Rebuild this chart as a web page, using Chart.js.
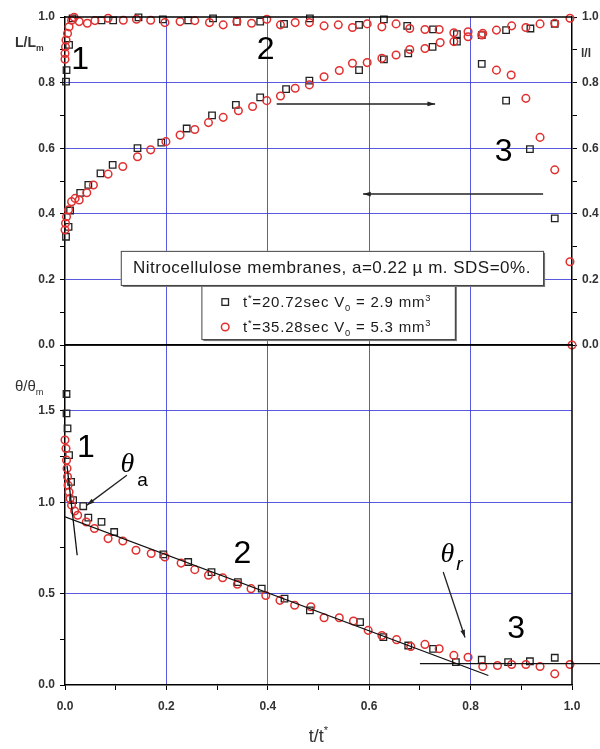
<!DOCTYPE html>
<html>
<head>
<meta charset="utf-8">
<script src="https://cdn.jsdelivr.net/npm/chart.js@4.4.1/dist/chart.umd.min.js"></script>
<style>
  html, body { margin: 0; padding: 0; background: #fff; overflow: hidden; }
  #wrap { position: relative; width: 600px; height: 749px; overflow: hidden; }
  canvas { position: absolute; left: 0; }
  #topChart { top: 0; }
  #botChart { top: 330px; }
</style>
</head>
<body>
<div id="wrap">
  <canvas id="topChart" width="640" height="360"></canvas>
  <canvas id="botChart" width="640" height="419"></canvas>
</div>
<script>
// tick values
const xTicks = [0, 0.1, 0.2, 0.3, 0.4, 0.5, 0.6, 0.7, 0.8, 0.9, 1.0];
const topYTicks = [0, 0.1, 0.2, 0.3, 0.4, 0.5, 0.6, 0.7, 0.8, 0.9, 1.0];
const botYTicks = [0, 0.25, 0.5, 0.75, 1.0, 1.25, 1.5, 1.75];

// top panel, squares (t*=20.72sec) - L/Lm branch
const topSqUpper = [[0.002,0.803],[0.003,0.838],[0.008,0.915],[0.015,0.996],[0.072,0.99],[0.095,0.99],
  [0.145,0.999],[0.193,0.993],[0.243,0.99],[0.292,0.996],[0.339,0.986],[0.385,0.986],[0.432,0.979],
  [0.483,0.996],[0.58,0.976],[0.629,0.993],[0.675,0.973],[0.726,0.962],[0.773,0.948],
  [0.822,0.857],[0.87,0.745],[0.917,0.597],[0.966,0.386]];
// top panel, squares - l/l branch
const topSqRising = [[0.002,0.33],[0.007,0.36],[0.01,0.41],[0.03,0.464],[0.046,0.488],[0.07,0.523],
  [0.094,0.549],[0.143,0.60],[0.19,0.617],[0.24,0.66],[0.29,0.70],[0.337,0.732],[0.385,0.755],
  [0.436,0.78],[0.482,0.806],[0.58,0.838],[0.629,0.871],[0.677,0.889],[0.725,0.909],[0.773,0.925],
  [0.822,0.945],[0.87,0.96],[0.918,0.965],[0.966,0.979]];
// top panel, circles (t*=35.28sec) - L/Lm branch
const topCiUpper = [[0,0.871],[0,0.889],[0.001,0.909],[0.002,0.93],[0.005,0.95],[0.008,0.97],
  [0.013,0.99],[0.018,0.999],[0.028,0.986],[0.044,0.981],[0.059,0.989],[0.085,0.996],[0.115,0.99],
  [0.141,0.993],[0.169,0.99],[0.197,0.983],[0.227,0.986],[0.256,0.989],[0.285,0.983],[0.312,0.976],
  [0.339,0.986],[0.368,0.981],[0.398,0.993],[0.425,0.976],[0.454,0.983],[0.482,0.983],[0.511,0.973],
  [0.539,0.976],[0.567,0.968],[0.596,0.979],[0.625,0.97],[0.653,0.979],[0.68,0.965],[0.71,0.962],
  [0.738,0.962],[0.767,0.952],[0.795,0.955],[0.824,0.95],[0.851,0.838],[0.88,0.823],[0.909,0.752],
  [0.937,0.633],[0.966,0.534],[0.996,0.254],[1.0,0.0]];
// top panel, circles - l/l branch
const topCiRising = [[0,0.351],[0.001,0.371],[0.003,0.391],[0.007,0.412],[0.013,0.437],[0.02,0.447],
  [0.028,0.442],[0.043,0.464],[0.056,0.488],[0.085,0.521],[0.114,0.544],[0.143,0.574],[0.169,0.595],
  [0.199,0.62],[0.227,0.64],[0.256,0.657],[0.283,0.678],[0.312,0.694],[0.342,0.714],[0.37,0.727],
  [0.398,0.745],[0.425,0.759],[0.454,0.783],[0.482,0.793],[0.511,0.818],[0.541,0.837],[0.567,0.859],
  [0.596,0.861],[0.625,0.874],[0.653,0.884],[0.68,0.901],[0.71,0.904],[0.74,0.922],[0.767,0.925],
  [0.795,0.94],[0.822,0.945],[0.851,0.96],[0.881,0.973],[0.909,0.968],[0.937,0.979],[0.966,0.981],
  [0.996,0.996]];

// bottom panel, theta/theta_m
const botSq = [[0.003,1.592],[0.003,1.486],[0.005,1.404],[0.008,1.258],[0.012,1.111],[0.016,1.011],
  [0.036,0.978],[0.046,0.916],[0.072,0.892],[0.097,0.837],[0.194,0.715],[0.243,0.673],[0.289,0.618],
  [0.341,0.563],[0.388,0.527],[0.433,0.472],[0.483,0.408],[0.582,0.344],[0.628,0.262],[0.677,0.216],
  [0.726,0.198],[0.771,0.125],[0.822,0.138],[0.874,0.125],[0.917,0.13],[0.966,0.149]];
const botCi = [[0,1.34],[0.002,1.294],[0.003,1.23],[0.004,1.185],[0.005,1.139],[0.006,1.093],
  [0.008,1.056],[0.01,1.02],[0.013,0.984],[0.019,0.952],[0.025,0.929],[0.042,0.892],[0.058,0.856],
  [0.085,0.801],[0.114,0.788],[0.14,0.737],[0.17,0.719],[0.197,0.70],[0.229,0.667],[0.256,0.631],
  [0.283,0.60],[0.311,0.587],[0.34,0.551],[0.367,0.527],[0.396,0.49],[0.424,0.463],[0.453,0.436],
  [0.485,0.428],[0.511,0.368],[0.541,0.368],[0.569,0.35],[0.598,0.299],[0.625,0.271],[0.654,0.248],
  [0.682,0.211],[0.71,0.222],[0.738,0.198],[0.767,0.162],[0.795,0.152],[0.824,0.101],[0.853,0.107],
  [0.881,0.112],[0.909,0.112],[0.937,0.101],[0.966,0.061],[0.996,0.112]];

// tangent lines drawn on the bottom panel
const tangentStart = [[0.004,1.2],[0.024,0.71]];
const tangentMid = [[0,0.92],[0.835,0.052]];
const tangentEnd = [[0.70,0.117],[1.06,0.117]];

const BLUE = 'rgba(60,60,215,0.85)';
const RED = 'rgb(225,48,48)';
const FONT = 'Liberation Sans';

const pts = arr => arr.map(p => ({ x: p[0], y: p[1] }));
const isStep = (v, s) => Math.abs(v / s - Math.round(v / s)) < 1e-6;

// scale helpers
const setTicks = vals => s => { s.ticks = vals.map(v => ({ value: v })); };
const tickFont = { family: FONT, size: 12, weight: 'bold' };

function xGrid(ctx) {
  const v = ctx.tick ? ctx.tick.value : 0;
  return (isStep(v, 0.2) && v > 0.01 && v < 0.99) ? BLUE : 'rgba(0,0,0,0)';
}

function sqSet(data) {
  return { data: pts(data), pointStyle: 'rect', pointRadius: 4.6, borderColor: '#222',
    backgroundColor: 'rgba(0,0,0,0)', borderWidth: 1.3, showLine: false, clip: false };
}
function ciSet(data) {
  return { data: pts(data), pointStyle: 'circle', pointRadius: 3.8, borderColor: RED,
    backgroundColor: 'rgba(0,0,0,0)', borderWidth: 1.5, showLine: false, clip: false };
}
function lineSet(data) {
  return { data: pts(data), showLine: true, pointRadius: 0, borderColor: '#111', borderWidth: 1.3 };
}

// draw text with super/subscripts
function rich(ctx, x, y, parts, size, align, style, spacing) {
  style = style || '';
  ctx.letterSpacing = (spacing || 0) + 'px';
  let w = 0;
  parts.forEach(p => {
    const s = p[1] ? size * 0.62 : size;
    ctx.font = style + ' ' + s + 'px ' + FONT;
    w += ctx.measureText(p[0]).width;
  });
  let cx = align === 'center' ? x - w / 2 : x;
  ctx.textAlign = 'left';
  ctx.textBaseline = 'alphabetic';
  parts.forEach(p => {
    const s = p[1] ? size * 0.62 : size;
    ctx.font = style + ' ' + s + 'px ' + FONT;
    let dy = 0;
    if (p[1] === 'sup') dy = -size * 0.42;
    if (p[1] === 'sub') dy = size * 0.28;
    ctx.fillText(p[0], cx, y + dy);
    cx += ctx.measureText(p[0]).width;
  });
  ctx.letterSpacing = '0px';
}

function arrow(ctx, x1, y1, x2, y2, head) {
  ctx.beginPath();
  ctx.moveTo(x1, y1);
  ctx.lineTo(x2, y2);
  ctx.stroke();
  const a = Math.atan2(y2 - y1, x2 - x1);
  ctx.beginPath();
  ctx.moveTo(x2, y2);
  ctx.lineTo(x2 - head * Math.cos(a - 0.3), y2 - head * Math.sin(a - 0.3));
  ctx.lineTo(x2 - head * Math.cos(a + 0.3), y2 - head * Math.sin(a + 0.3));
  ctx.closePath();
  ctx.fill();
}

function bigText(ctx, chart, t, x, y) {
  ctx.font = '32px ' + FONT;
  ctx.fillStyle = '#000';
  ctx.textAlign = 'center';
  ctx.textBaseline = 'middle';
  ctx.fillText(t, chart.scales.x.getPixelForValue(x), chart.scales.y.getPixelForValue(y));
}

const topOverlay = {
  id: 'topOverlay',
  afterDatasetsDraw(chart) {
    const ctx = chart.ctx, a = chart.chartArea;
    const X = v => chart.scales.x.getPixelForValue(v);
    const Y = v => chart.scales.y.getPixelForValue(v);
    ctx.save();
    // frame top
    ctx.strokeStyle = '#000';
    ctx.lineWidth = 1.5;
    ctx.beginPath();
    ctx.moveTo(a.left, a.top);
    ctx.lineTo(a.right, a.top);
    ctx.stroke();

    bigText(ctx, chart, '1', 0.03, 0.867);
    bigText(ctx, chart, '2', 0.396, 0.899);
    bigText(ctx, chart, '3', 0.865, 0.587);

    ctx.strokeStyle = '#222';
    ctx.fillStyle = '#222';
    ctx.lineWidth = 1.5;
    arrow(ctx, X(0.4175), Y(0.735), X(0.73), Y(0.735), 8);
    arrow(ctx, X(0.943), Y(0.46), X(0.588), Y(0.46), 8);

    // legend boxes
    const b1 = [X(0.110), Y(0.287), X(0.943), Y(0.183)];
    const b2 = [X(0.269), Y(0.183), X(0.769), Y(0.018)];
    [b2, b1].forEach(b => {
      ctx.fillStyle = '#777';
      ctx.fillRect(b[0] + 2, b[1] + 2, b[2] - b[0], b[3] - b[1]);
      ctx.fillStyle = '#fff';
      ctx.fillRect(b[0], b[1], b[2] - b[0], b[3] - b[1]);
      ctx.strokeStyle = '#444';
      ctx.lineWidth = 1;
      ctx.strokeRect(b[0] + 0.5, b[1] + 0.5, b[2] - b[0], b[3] - b[1]);
    });
    ctx.fillStyle = '#1a1a1a';
    rich(ctx, (b1[0] + b1[2]) / 2, Y(0.22), [['Nitrocellulose membranes, a=0.22 \u00b5 m. SDS=0%.', '']], 17, 'center', '', 0.5);

    const mx = X(0.316);
    const y1 = Y(0.131), y2 = Y(0.055);
    ctx.strokeStyle = '#222';
    ctx.lineWidth = 1.3;
    ctx.strokeRect(mx - 3.3, y1 - 3.3, 6.6, 6.6);
    ctx.strokeStyle = RED;
    ctx.lineWidth = 1.5;
    ctx.beginPath();
    ctx.arc(mx, y2, 3.8, 0, Math.PI * 2);
    ctx.stroke();
    ctx.fillStyle = '#1a1a1a';
    rich(ctx, X(0.351), y1 + 5, [['t', ''], ['*', 'sup'], ['=20.72sec V', ''], ['0', 'sub'], [' = 2.9 mm', ''], ['3', 'sup']], 15, 'left', '', 0.8);
    rich(ctx, X(0.351), y2 + 5, [['t', ''], ['*', 'sup'], ['=35.28sec V', ''], ['0', 'sub'], [' = 5.3 mm', ''], ['3', 'sup']], 15, 'left', '', 0.8);

    // axis titles
    ctx.fillStyle = '#333';
    rich(ctx, a.left - 50, a.top + 30, [['L/L', ''], ['m', 'sub']], 14, 'left', 'bold');
    rich(ctx, a.right + 9, a.top + 40, [['l/l', '']], 12, 'left', 'bold');
    ctx.restore();
  }
};

const botOverlay = {
  id: 'botOverlay',
  afterDatasetsDraw(chart) {
    const ctx = chart.ctx, a = chart.chartArea;
    const X = v => chart.scales.x.getPixelForValue(v);
    const Y = v => chart.scales.y.getPixelForValue(v);
    ctx.save();
    ctx.strokeStyle = '#000';
    ctx.lineWidth = 1.5;
    ctx.beginPath();
    ctx.moveTo(a.left, a.top);
    ctx.lineTo(a.right, a.top);
    ctx.lineTo(a.right, a.bottom);
    ctx.stroke();

    bigText(ctx, chart, '1', 0.041, 1.293);
    bigText(ctx, chart, '2', 0.35, 0.718);
    bigText(ctx, chart, '3', 0.89, 0.307);

    ctx.fillStyle = '#000';
    ctx.textAlign = 'center';
    ctx.textBaseline = 'middle';
    ctx.font = 'italic 28px Liberation Serif';
    ctx.fillText('\u03b8', X(0.123), Y(1.203));
    ctx.fillText('\u03b8', X(0.754), Y(0.715));
    ctx.font = '19px ' + FONT;
    ctx.fillText('a', X(0.153), Y(1.115));
    ctx.font = 'italic 19px ' + FONT;
    ctx.fillText('r', X(0.778), Y(0.66));

    ctx.strokeStyle = '#222';
    ctx.fillStyle = '#222';
    ctx.lineWidth = 1.3;
    arrow(ctx, X(0.122), Y(1.148), X(0.043), Y(0.984), 8);
    arrow(ctx, X(0.746), Y(0.618), X(0.789), Y(0.26), 8);

    ctx.fillStyle = '#333';
    rich(ctx, a.left - 50, 61, [['\u03b8/\u03b8', ''], ['m', 'sub']], 15, 'left');
    rich(ctx, X(0.5), 412, [['t/t', ''], ['*', 'sup']], 18, 'center');
    ctx.restore();
  }
};

// top panel: L/Lm and l/l vs t/t*
const topChart = new Chart('topChart', {
  type: 'scatter',
  data: {
    datasets: [ciSet(topCiUpper), ciSet(topCiRising), sqSet(topSqUpper), sqSet(topSqRising)]
  },
  options: {
    responsive: false,
    animation: false,
    events: [],
    layout: { padding: { top: 17, left: 0, right: 0, bottom: 0 } },
    plugins: { legend: { display: false }, tooltip: { enabled: false } },
    scales: {
      x: {
        type: 'linear', min: 0, max: 1, position: 'bottom',
        afterBuildTicks: setTicks(xTicks),
        afterFit: s => { s.height = 15; },
        grid: { color: xGrid, drawTicks: false },
        border: { color: '#000', width: 1.5 },
        ticks: { display: false }
      },
      y: {
        type: 'linear', min: 0, max: 1, position: 'left',
        afterBuildTicks: setTicks(topYTicks),
        afterFit: s => { s.width = 65; },
        grid: {
          color: ctx => (isStep(ctx.tick.value, 0.2) && ctx.tick.value > 0.01 && ctx.tick.value < 0.99) ? BLUE : 'rgba(0,0,0,0)',
          tickColor: '#000', tickLength: 5
        },
        border: { color: '#000', width: 1.5 },
        ticks: {
          font: tickFont, color: '#333', padding: 5, autoSkip: false,
          callback: v => isStep(v, 0.2) ? v.toFixed(1) : ''
        }
      },
      y2: {
        type: 'linear', min: 0, max: 1, position: 'right',
        afterBuildTicks: setTicks(topYTicks),
        afterFit: s => { s.width = 68; },
        grid: { drawOnChartArea: false, tickColor: '#000', tickLength: 5 },
        border: { color: '#000', width: 1.5 },
        ticks: {
          font: tickFont, color: '#333', padding: 5, autoSkip: false,
          callback: v => isStep(v, 0.2) ? v.toFixed(1) : ''
        }
      }
    }
  },
  plugins: [topOverlay]
});

// bottom panel: theta/theta_m vs t/t*
const endLine = lineSet(tangentEnd);
endLine.clip = false;
const botChart = new Chart('botChart', {
  type: 'scatter',
  data: {
    datasets: [lineSet(tangentStart), lineSet(tangentMid), endLine, ciSet(botCi), sqSet(botSq)]
  },
  options: {
    responsive: false,
    animation: false,
    events: [],
    layout: { padding: { top: 15, left: 0, right: 68, bottom: 0 } },
    plugins: { legend: { display: false }, tooltip: { enabled: false } },
    scales: {
      x: {
        type: 'linear', min: 0, max: 1, position: 'bottom',
        afterBuildTicks: setTicks(xTicks),
        afterFit: s => { s.height = 64; },
        grid: { color: xGrid, tickColor: '#000', tickLength: 5 },
        border: { color: '#000', width: 1.5 },
        ticks: {
          font: tickFont, color: '#333', padding: 9, autoSkip: false, maxRotation: 0, minRotation: 0,
          callback: v => isStep(v, 0.2) ? v.toFixed(1) : ''
        }
      },
      y: {
        type: 'linear', min: 0, max: 1.86, position: 'left',
        afterBuildTicks: setTicks(botYTicks),
        afterFit: s => { s.width = 65; },
        grid: {
          color: ctx => (isStep(ctx.tick.value, 0.5) && ctx.tick.value > 0.01) ? BLUE : 'rgba(0,0,0,0)',
          tickColor: '#000', tickLength: 5
        },
        border: { color: '#000', width: 1.5 },
        ticks: {
          font: tickFont, color: '#333', padding: 5, autoSkip: false,
          callback: v => isStep(v, 0.5) ? v.toFixed(1) : ''
        }
      }
    }
  },
  plugins: [botOverlay]
});
</script>
</body>
</html>
